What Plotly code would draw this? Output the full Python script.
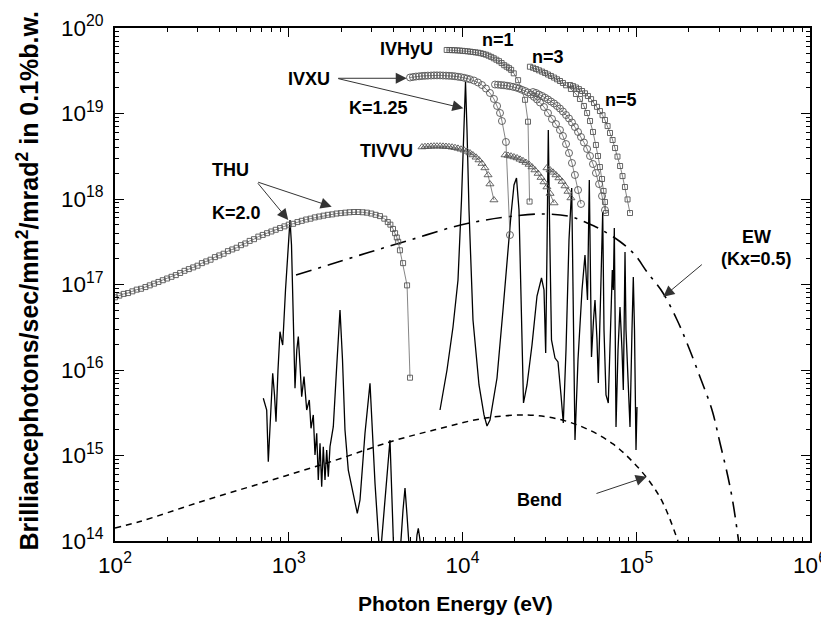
import numpy as np
import plotly.graph_objects as go

# ---------------- data (log10 of photon energy [eV], log10 of brilliance) ----------------
# THU undulator (K=2.0) tuning curve
thu_logE = [2.000, 2.025, 2.050, 2.075, 2.100, 2.125, 2.150, 2.175, 2.200, 2.225, 2.250, 2.275,
            2.300, 2.325, 2.350, 2.375, 2.400, 2.425, 2.450, 2.475, 2.500, 2.525, 2.550, 2.575,
            2.600, 2.625, 2.650, 2.675, 2.700, 2.725, 2.750, 2.775, 2.800, 2.825, 2.850, 2.875,
            2.900, 2.925, 2.950, 2.975, 3.000, 3.025, 3.050, 3.075, 3.100, 3.125, 3.150, 3.175,
            3.200, 3.225, 3.250, 3.275, 3.300, 3.325, 3.350, 3.375, 3.400, 3.425, 3.450, 3.475,
            3.500, 3.525, 3.550, 3.570, 3.585, 3.600, 3.612, 3.622, 3.630, 3.640, 3.658, 3.681, 3.698]
thu_logB = [16.85, 16.87, 16.89, 16.90, 16.92, 16.94, 16.95, 16.97, 16.99, 17.01, 17.03, 17.05,
            17.07, 17.09, 17.11, 17.135, 17.16, 17.18, 17.20, 17.22, 17.25, 17.27, 17.29, 17.32,
            17.34, 17.36, 17.39, 17.41, 17.43, 17.46, 17.48, 17.51, 17.53, 17.56, 17.58, 17.60,
            17.62, 17.64, 17.66, 17.68, 17.70, 17.71, 17.73, 17.745, 17.76, 17.77, 17.785, 17.795,
            17.805, 17.815, 17.82, 17.83, 17.835, 17.84, 17.845, 17.848, 17.848, 17.845, 17.84, 17.83,
            17.815, 17.80, 17.77, 17.73, 17.70, 17.65, 17.60, 17.55, 17.50, 17.40, 17.25, 16.99, 15.91]

# IVHyU (squares) harmonics n=1, 3, 5
hy1_logE = [3.909, 3.925, 3.940, 3.955, 3.970, 3.985, 4.000, 4.015, 4.030, 4.045, 4.060, 4.075,
            4.090, 4.105, 4.120, 4.135, 4.150, 4.165, 4.180, 4.195, 4.210, 4.225, 4.240, 4.254,
            4.268, 4.280, 4.295, 4.320, 4.360, 4.377, 4.386]
hy1_logB = [19.743, 19.742, 19.741, 19.740, 19.738, 19.736, 19.733, 19.730, 19.727, 19.723, 19.719, 19.715,
            19.711, 19.705, 19.697, 19.688, 19.676, 19.662, 19.646, 19.629, 19.612, 19.59, 19.565, 19.547,
            19.53, 19.51, 19.47, 19.39, 19.16, 18.904, 17.97]
hy3_logE = [4.388, 4.406, 4.423, 4.440, 4.458, 4.475, 4.492, 4.509, 4.527, 4.544, 4.561, 4.578,
            4.596, 4.624, 4.653, 4.676, 4.699, 4.717, 4.734, 4.751, 4.768, 4.780, 4.791, 4.803,
            4.812, 4.820, 4.826]
hy3_logB = [19.547, 19.535, 19.520, 19.505, 19.490, 19.474, 19.456, 19.439, 19.420, 19.400, 19.380, 19.357,
            19.330, 19.287, 19.228, 19.170, 19.088, 19.006, 18.912, 18.784, 18.632, 18.503, 18.374, 18.234,
            18.094, 17.965, 17.836]
hy5_logE = [4.619, 4.636, 4.653, 4.670, 4.688, 4.705, 4.722, 4.740, 4.757, 4.774, 4.791, 4.806,
            4.820, 4.835, 4.849, 4.864, 4.878, 4.892, 4.907, 4.921, 4.935, 4.950, 4.964]
hy5_logB = [19.333, 19.320, 19.304, 19.285, 19.263, 19.236, 19.205, 19.168, 19.123, 19.078, 19.029, 18.980,
            18.924, 18.853, 18.772, 18.690, 18.596, 18.496, 18.386, 18.268, 18.140, 17.995, 17.836]

# IVXU (circles, K=1.25) harmonics n=1, 3, 5
xu1_logE = [3.698, 3.715, 3.732, 3.750, 3.767, 3.784, 3.801, 3.819, 3.836, 3.853, 3.871, 3.888,
            3.905, 3.922, 3.940, 3.957, 3.974, 3.991, 4.009, 4.026, 4.043, 4.066, 4.089, 4.112,
            4.135, 4.158, 4.181, 4.199, 4.216, 4.227, 4.250, 4.273]
xu1_logB = [19.421, 19.427, 19.432, 19.435, 19.439, 19.441, 19.443, 19.444, 19.446, 19.446, 19.446, 19.444,
            19.443, 19.441, 19.439, 19.435, 19.430, 19.425, 19.418, 19.409, 19.400, 19.386, 19.363, 19.333,
            19.292, 19.240, 19.170, 19.088, 19.006, 18.912, 18.667, 17.579]
xu3_logE = [4.187, 4.204, 4.222, 4.239, 4.256, 4.273, 4.291, 4.308, 4.325, 4.342, 4.360, 4.377,
            4.394, 4.411, 4.429, 4.446, 4.469, 4.492, 4.515, 4.538, 4.561, 4.578, 4.596, 4.613,
            4.630, 4.647, 4.665, 4.682]
xu3_logB = [19.339, 19.337, 19.333, 19.330, 19.325, 19.319, 19.312, 19.304, 19.292, 19.278, 19.263, 19.246,
            19.222, 19.195, 19.164, 19.129, 19.076, 19.006, 18.936, 18.877, 18.807, 18.737, 18.643, 18.538,
            18.421, 18.281, 18.105, 17.942]
xu5_logE = [4.406, 4.423, 4.440, 4.458, 4.475, 4.492, 4.509, 4.527, 4.544, 4.561, 4.578, 4.596,
            4.613, 4.630, 4.647, 4.665, 4.682, 4.699, 4.717, 4.734, 4.751, 4.768, 4.786, 4.803, 4.820]
xu5_logB = [19.251, 19.240, 19.222, 19.205, 19.185, 19.164, 19.140, 19.117, 19.088, 19.058, 19.023, 18.982,
            18.942, 18.895, 18.842, 18.784, 18.725, 18.661, 18.585, 18.503, 18.409, 18.304, 18.175, 18.035, 17.871]

# TIVVU (triangles) harmonics n=1, 3, 5
tv1_logE = [3.767, 3.784, 3.801, 3.819, 3.836, 3.853, 3.871, 3.888, 3.905, 3.922, 3.940, 3.957,
            3.974, 3.991, 4.009, 4.026, 4.043, 4.060, 4.078, 4.095, 4.112, 4.129, 4.147, 4.158, 4.181]
tv1_logB = [18.608, 18.612, 18.614, 18.616, 18.618, 18.618, 18.618, 18.616, 18.614, 18.611, 18.606, 18.600,
            18.592, 18.582, 18.571, 18.556, 18.538, 18.515, 18.488, 18.456, 18.415, 18.363, 18.281, 18.175, 17.988]
tv3_logE = [4.245, 4.262, 4.279, 4.296, 4.314, 4.331, 4.348, 4.365, 4.383, 4.400, 4.417, 4.435,
            4.452, 4.469, 4.486, 4.504, 4.527]
tv3_logB = [18.515, 18.509, 18.501, 18.491, 18.480, 18.464, 18.447, 18.427, 18.404, 18.374, 18.339, 18.298,
            18.251, 18.199, 18.140, 18.064, 17.953]
tv5_logE = [4.486, 4.504, 4.521, 4.538, 4.555, 4.573, 4.590, 4.607, 4.624]
tv5_logB = [18.363, 18.339, 18.312, 18.281, 18.246, 18.205, 18.152, 18.088, 18.012]

# Elliptical wiggler EW (Kx=0.5)
ew_logE = [3.042, 3.237, 3.468, 3.698, 3.945, 4.101, 4.273, 4.463, 4.619, 4.717, 4.791, 4.906,
           4.993, 5.062, 5.154, 5.235, 5.292, 5.367, 5.436, 5.482, 5.528, 5.557, 5.589]
ew_logB = [17.111, 17.234, 17.380, 17.520, 17.673, 17.743, 17.795, 17.825, 17.795, 17.719, 17.649, 17.503,
           17.345, 17.146, 16.901, 16.585, 16.316, 15.918, 15.532, 15.146, 14.749, 14.444, 14.000]

# Bending magnet
bend_logE = [2.000, 2.144, 2.489, 2.875, 3.255, 3.600, 3.871, 4.118, 4.371, 4.561, 4.717, 4.866,
             4.981, 5.079, 5.154, 5.240]
bend_logB = [14.152, 14.228, 14.456, 14.696, 14.936, 15.170, 15.316, 15.433, 15.474, 15.421, 15.310, 15.135,
             14.924, 14.690, 14.444, 14.000]

# Calculated spectra (solid line): THU K=2.0 and IVXU K=1.25
sp1_logE = [2.8535, 2.8731, 2.8823, 2.8961, 2.9076, 2.9180, 2.9266, 2.9381, 2.9496, 2.9583, 2.9652, 2.9813,
            2.9986, 3.0072, 3.0158, 3.0273, 3.0360, 3.0463, 3.0550, 3.0647, 3.0745, 3.0878, 3.1033, 3.1183,
            3.1281, 3.1413, 3.1511, 3.1609, 3.1701, 3.1799, 3.1896, 3.1988, 3.2086, 3.2184, 3.2276, 3.2374,
            3.2564, 3.2748, 3.2950, 3.3094, 3.3237, 3.3427, 3.3623, 3.3813, 3.3945, 3.4101, 3.4388, 3.4676,
            3.4964, 3.5252, 3.5540, 3.5827, 3.6058, 3.6345, 3.6576, 3.6691, 3.6806, 3.6978, 3.7209, 3.7381,
            3.7456, 3.7554, 3.7669]
sp1_logB = [15.669, 15.532, 14.928, 15.415, 15.961, 15.708, 15.395, 16.000, 16.448, 16.351, 16.292, 16.936,
            17.544, 17.754, 17.462, 16.585, 15.786, 16.234, 16.390, 16.058, 15.688, 15.922, 15.532, 15.649,
            15.318, 15.474, 15.006, 15.260, 14.713, 15.143, 14.635, 15.103, 14.713, 15.064, 14.752, 15.103,
            15.337, 16.000, 16.702, 16.117, 15.298, 14.830, 14.635, 14.480, 14.324, 14.480, 15.260, 15.844,
            14.675, 13.778, 14.480, 15.181, 13.778, 13.661, 14.363, 14.620, 14.304, 13.778, 13.602, 14.070,
            14.149, 14.012, 13.661]
sp2_logE = [3.8705, 3.9108, 3.9453, 3.9741, 3.9942, 4.0058, 4.0173, 4.0259, 4.0374, 4.0604, 4.0950, 4.1237,
            4.1410, 4.1583, 4.1986, 4.2331, 4.2561, 4.2791, 4.2964, 4.3108, 4.3252, 4.3367, 4.3511, 4.3712,
            4.4000, 4.4288, 4.4547, 4.4691, 4.4788, 4.4863, 4.4938, 4.5007, 4.5122, 4.5324, 4.5496, 4.5669,
            4.5801, 4.5957, 4.6129, 4.6285, 4.6360, 4.6475, 4.6647, 4.6878, 4.7050, 4.7194, 4.7298, 4.7367,
            4.7424, 4.7540, 4.7626, 4.7741, 4.7816, 4.7942, 4.8069, 4.8144, 4.8259, 4.8391, 4.8518, 4.8622,
            4.8679, 4.8737, 4.8789, 4.8835, 4.8950, 4.9065, 4.9180, 4.9255, 4.9307, 4.9353, 4.9410, 4.9496,
            4.9640, 4.9755, 4.9830, 4.9899, 4.9986, 5.0043]
sp2_logB = [15.532, 16.000, 16.503, 17.053, 17.988, 18.690, 19.368, 18.807, 17.871, 16.585, 15.825, 15.474,
            15.345, 15.415, 15.906, 16.702, 17.287, 17.813, 18.164, 18.246, 17.871, 16.819, 15.614, 15.825,
            16.292, 16.865, 17.076, 16.936, 16.199, 17.404, 18.807, 17.754, 16.351, 16.140, 16.094, 15.708,
            15.380, 16.234, 17.520, 18.129, 16.819, 15.181, 16.117, 16.936, 17.345, 16.819, 18.222, 16.936,
            16.152, 16.585, 16.819, 16.351, 15.848, 16.819, 17.848, 16.468, 15.708, 15.614, 16.585, 17.170,
            16.936, 17.661, 16.468, 15.333, 16.234, 16.737, 16.234, 15.766, 16.585, 17.380, 16.468, 16.000,
            15.333, 16.468, 17.088, 16.468, 15.064, 15.567]

def pw(a):
    return 10.0 ** np.array(a)

FONT = "Liberation Sans, Arial, Helvetica, sans-serif"
MK = "#555555"
fig = go.Figure()

def marker_series(lx, ly, symbol, size):
    fig.add_trace(go.Scatter(
        x=pw(lx), y=pw(ly), mode="lines+markers",
        line=dict(color="#666666", width=0.8),
        marker=dict(symbol=symbol, size=size, color=MK, line=dict(color=MK, width=0.9)),
        showlegend=False, hoverinfo="skip"))

# broken-line curves
fig.add_trace(go.Scatter(x=pw(bend_logE), y=pw(bend_logB), mode="lines", line_shape="spline",
                         line=dict(color="black", width=1.5, dash="6px,5px"), showlegend=False))
fig.add_trace(go.Scatter(x=pw(ew_logE), y=pw(ew_logB), mode="lines", line_shape="spline",
                         line=dict(color="black", width=1.6, dash="16px,7px,3px,7px"), showlegend=False))
# spectra
for lx, ly in [(sp1_logE, sp1_logB), (sp2_logE, sp2_logB)]:
    fig.add_trace(go.Scatter(x=pw(lx), y=pw(ly), mode="lines",
                             line=dict(color="black", width=1.3), showlegend=False))

marker_series(thu_logE, thu_logB, "square-open", 5)
marker_series(hy1_logE, hy1_logB, "square-open", 5)
marker_series(hy3_logE, hy3_logB, "square-open", 5)
marker_series(hy5_logE, hy5_logB, "square-open", 5)
marker_series(xu1_logE, xu1_logB, "circle-open", 7)
marker_series(xu3_logE, xu3_logB, "circle-open", 7)
marker_series(xu5_logE, xu5_logB, "circle-open", 7)
marker_series(tv1_logE, tv1_logB, "triangle-up-open", 7)
marker_series(tv3_logE, tv3_logB, "triangle-up-open", 7)
marker_series(tv5_logE, tv5_logB, "triangle-up-open", 7)

# ---------------- labels ----------------
labels = [("THU", 2.662, 18.339), ("K=2.0", 2.702, 17.836), ("IVXU", 3.117, 19.404),
          ("K=1.25", 3.519, 19.064), ("IVHyU", 3.675, 19.754), ("TIVVU", 3.560, 18.561),
          ("n=1", 4.204, 19.860), ("n=3", 4.492, 19.661), ("n=5", 4.912, 19.158),
          ("EW", 5.691, 17.556), ("(Kx=0.5)", 5.691, 17.298), ("Bend", 4.446, 14.480)]
ann = []
for t, lx, ly in labels:
    ann.append(dict(x=lx, y=ly, xref="x", yref="y", text="<b>%s</b>" % t, showarrow=False,
                    font=dict(family=FONT, size=18, color="black"), xanchor="center", yanchor="middle"))

arrows = [(2.997, 17.754, -31.6, -38.3), (3.247, 17.910, -75, -25),
          (3.679, 19.412, -70, 0), (4.005, 19.061, -126.6, -30),
          (5.156, 16.857, 40, -33.4), (5.060, 14.752, -51.7, 17.3)]
for lx, ly, ax, ay in arrows:
    ann.append(dict(x=lx, y=ly, xref="x", yref="y", ax=ax, ay=ay, axref="pixel", ayref="pixel",
                    text="", showarrow=True, arrowhead=2, arrowsize=2.2, arrowwidth=1,
                    arrowcolor="#333333", standoff=0))

ann.append(dict(x=0.49, y=-0.121, xref="paper", yref="paper", showarrow=False,
                text="<b>Photon Energy (eV)</b>", font=dict(family=FONT, size=21, color="black"),
                xanchor="center", yanchor="middle"))
ann.append(dict(x=-0.125, y=0.508, xref="paper", yref="paper", showarrow=False, textangle=-90,
                text="<b>Brilliancephotons/sec/mm<sup>2</sup>/mrad<sup>2</sup> in 0.1%b.w.</b>",
                font=dict(family=FONT, size=25, color="black"), xanchor="center", yanchor="middle"))

axis_common = dict(type="log", showgrid=False, zeroline=False, showline=True, linecolor="black",
                   linewidth=1.5, mirror="allticks", ticks="inside", ticklen=9, tickwidth=1.3,
                   tickcolor="black", dtick=1, exponentformat="power", automargin=False,
                   tickfont=dict(family=FONT, size=18, color="black"),
                   minor=dict(ticks="inside", ticklen=4, tickwidth=1, tickcolor="black",
                              dtick="D1", showgrid=False))

# the page places the figure 8px from its top-left corner, so the figure is 8px smaller
fig.update_layout(
    width=821, height=609, margin=dict(l=107, r=19, t=20, b=76, autoexpand=False),
    paper_bgcolor="white", plot_bgcolor="white", showlegend=False,
    xaxis=dict(range=[2, 6], ticklabelstandoff=4, **axis_common),
    yaxis=dict(range=[14, 20], ticklabelstandoff=6, **axis_common),
    annotations=ann, font=dict(family=FONT, color="black"))

fig.write_html("out.html")
